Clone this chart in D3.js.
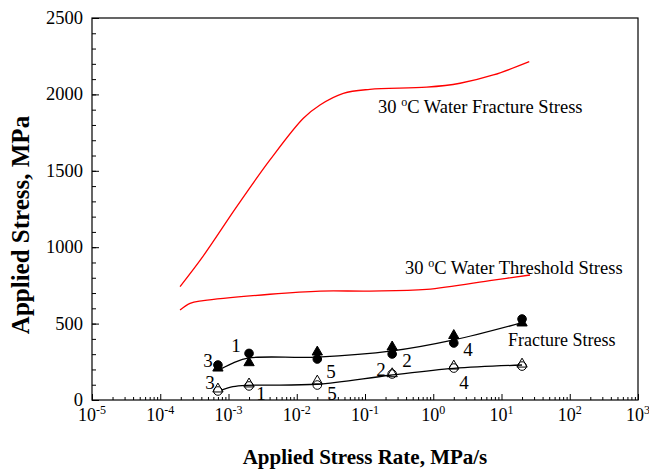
<!DOCTYPE html>
<html>
<head>
<meta charset="utf-8">
<script src="https://cdn.jsdelivr.net/npm/d3@7/dist/d3.min.js"></script>
<style>
  body { margin: 0; background: #fff; }
  text { font-family: "Liberation Serif", "Times New Roman", serif; fill: #000; }
</style>
</head>
<body>
<div id="chart"></div>
<script>
// rates at which the specimens were tested (MPa/s)
var testRates = [7e-4, 2e-3, 0.02, 0.25, 2, 20];
var filledCircles = [229, 305, 268, 301, 373, 530];
var filledTriangles = [209, 244, 314, 347, 422, 504];
var openCircles = [59, 92, 98, 170, 209, 222];
var openTriangles = [72, 105, 124, 172, 222, 235];

// fitted curve through the filled points
var fitUpperRates = [8e-4, 1.16e-3, 2e-3, 0.02, 0.25, 2, 20];
var fitUpperStress = [207, 242, 275, 281, 321, 393, 506];
// fitted curve through the open points
var fitLowerRates = [7.9e-4, 1.16e-3, 1.85e-3, 0.0196, 0.232, 2, 20];
var fitLowerStress = [65, 87, 96, 103, 162, 207, 229];

// 30 C water curves
var waterFractureRates = [1.95e-4, 4.2e-4, 1.32e-3, 4.05e-3, 0.0125, 0.0219, 0.0481, 0.118, 0.8, 2.47, 7.6, 25.5];
var waterFractureStress = [742, 938, 1265, 1571, 1844, 1931, 2007, 2033, 2047, 2073, 2127, 2214];
var thresholdRates = [1.95e-4, 2.73e-4, 4.27e-4, 4.05e-3, 0.022, 0.118, 0.8, 7.6, 26.2];
var thresholdStress = [589, 633, 650, 692, 713, 713, 724, 785, 818];

// point labels: [text, rate, stress] (stress at the text baseline)
var pointLabels = [
  ['3', 5.0e-4, 219], ['1', 1.29e-3, 317], ['3', 5.36e-4, 75], ['1', 3.0e-3, 0],
  ['5', 0.0318, 147], ['5', 0.0328, 0], ['2', 0.171, 160], ['2', 0.412, 213],
  ['4', 3.23, 285], ['4', 2.82, 69]
];

var xExponents = [-5, -4, -3, -2, -1, 0, 1, 2, 3];
var yLabels = [0, 500, 1000, 1500, 2000, 2500];

/**
 * SET UP
 */
var width = 649, height = 470;
// plot box (note: "top" is taken by window.top, so use pl/pr/pt/pb)
var pl = 92, pr = 638, pt = 18, pb = 400;

var svg = d3.select('#chart').append('svg')
  .attr('width', width)
  .attr('height', height);

var x = d3.scaleLog().domain([1e-5, 1e3]).range([pl, pr]);
var y = d3.scaleLinear().domain([0, 2500]).range([pb, pt]);

// minor ticks for the log axis (2..9 in each decade)
var xMinor = [];
xExponents.slice(0, -1).forEach(function(e) {
  for (var k = 2; k <= 9; k++) xMinor.push(k * Math.pow(10, e));
});
var xMajor = xExponents.map(function(e) { return Math.pow(10, e); });

var yMinor = d3.range(0, 2501, 100);

// frame
svg.append('rect')
  .attr('x', pl).attr('y', pt)
  .attr('width', pr - pl).attr('height', pb - pt)
  .attr('fill', 'none').attr('stroke', '#000').attr('stroke-width', 1.2);

// x axis ticks, drawn inward
svg.append('g')
  .attr('transform', 'translate(0,' + pb + ')')
  .call(d3.axisBottom(x).tickValues(xMinor).tickSize(-3).tickFormat(''))
  .call(function(g) { g.select('.domain').remove(); });
svg.append('g')
  .attr('transform', 'translate(0,' + pb + ')')
  .call(d3.axisBottom(x).tickValues(xMajor).tickSize(-6).tickFormat(''))
  .call(function(g) { g.select('.domain').remove(); });

// x tick labels with superscript exponents
var xl = svg.append('g').selectAll('text')
  .data(xExponents)
  .enter().append('text')
  .attr('x', function(d) { return x(Math.pow(10, d)); })
  .attr('y', pb + 21)
  .attr('text-anchor', 'middle')
  .style('font-size', '18px');
xl.append('tspan').text('10');
xl.append('tspan')
  .attr('dy', -7)
  .style('font-size', '12px')
  .text(function(d) { return d; });

// y axis ticks, drawn inward
svg.append('g')
  .attr('transform', 'translate(' + pl + ',0)')
  .call(d3.axisLeft(y).tickValues(yMinor).tickSize(-4).tickFormat(''))
  .call(function(g) { g.select('.domain').remove(); });
svg.append('g')
  .attr('transform', 'translate(' + pl + ',0)')
  .call(d3.axisLeft(y).tickValues(yLabels).tickSize(-7).tickFormat(''))
  .call(function(g) { g.select('.domain').remove(); });

svg.append('g').selectAll('text')
  .data(yLabels)
  .enter().append('text')
  .attr('x', pl - 9)
  .attr('y', function(d) { return y(d) + 6; })
  .attr('text-anchor', 'end')
  .style('font-size', '18.5px')
  .text(function(d) { return d; });

// axis titles
svg.append('text')
  .attr('x', (pl + pr) / 2)
  .attr('y', 464)
  .attr('text-anchor', 'middle')
  .style('font-size', '21px')
  .style('font-weight', 'bold')
  .text('Applied Stress Rate, MPa/s');

svg.append('text')
  .attr('transform', 'translate(29,225) rotate(-90)')
  .attr('text-anchor', 'middle')
  .style('font-size', '25px')
  .style('font-weight', 'bold')
  .text('Applied Stress, MPa');

/**
 * CURVES
 */
function pairs(rates, stress) {
  return rates.map(function(r, i) { return [r, stress[i]]; });
}

var line = d3.line()
  .x(function(d) { return x(d[0]); })
  .y(function(d) { return y(d[1]); })
  .curve(d3.curveCatmullRom.alpha(0.5));

function drawCurve(rates, stress, color) {
  svg.append('path')
    .datum(pairs(rates, stress))
    .attr('d', line)
    .attr('fill', 'none')
    .attr('stroke', color)
    .attr('stroke-width', 1.3);
}

drawCurve(waterFractureRates, waterFractureStress, '#ff0000');
drawCurve(thresholdRates, thresholdStress, '#ff0000');
drawCurve(fitUpperRates, fitUpperStress, '#000');
drawCurve(fitLowerRates, fitLowerStress, '#000');

/**
 * MARKERS
 */
var triangle = d3.symbol().type(d3.symbolTriangle).size(46);

function drawPoints(values, shape, filled) {
  var sel = svg.append('g').selectAll('path')
    .data(pairs(testRates, values))
    .enter();
  var marks;
  if (shape === 'circle') {
    marks = sel.append('circle')
      .attr('cx', function(d) { return x(d[0]); })
      .attr('cy', function(d) { return y(d[1]); })
      .attr('r', 4.3);
  } else {
    marks = sel.append('path')
      .attr('d', triangle)
      .attr('transform', function(d) { return 'translate(' + x(d[0]) + ',' + y(d[1]) + ')'; });
  }
  marks.attr('fill', filled ? '#000' : 'none')
    .attr('stroke', '#000')
    .attr('stroke-width', 1);
}

drawPoints(filledCircles, 'circle', true);
drawPoints(filledTriangles, 'triangle', true);
drawPoints(openCircles, 'circle', false);
drawPoints(openTriangles, 'triangle', false);

// point numbers
svg.append('g').selectAll('text')
  .data(pointLabels)
  .enter().append('text')
  .attr('x', function(d) { return x(d[1]); })
  .attr('y', function(d) { return y(d[2]); })
  .attr('text-anchor', 'middle')
  .style('font-size', '19px')
  .text(function(d) { return d[0]; });

/**
 * ANNOTATIONS
 */
function degreeLabel(xp, yp, rest) {
  var t = svg.append('text')
    .attr('x', xp).attr('y', yp)
    .style('font-size', '18.5px');
  t.append('tspan').text('30 ');
  t.append('tspan').attr('dy', -7).style('font-size', '12px').text('o');
  t.append('tspan').attr('dy', 7).text('C ' + rest);
}

degreeLabel(378, 113, 'Water Fracture Stress');
degreeLabel(405, 274, 'Water Threshold Stress');

svg.append('text')
  .attr('x', 508).attr('y', 346)
  .style('font-size', '18px')
  .text('Fracture Stress');
</script>
</body>
</html>
